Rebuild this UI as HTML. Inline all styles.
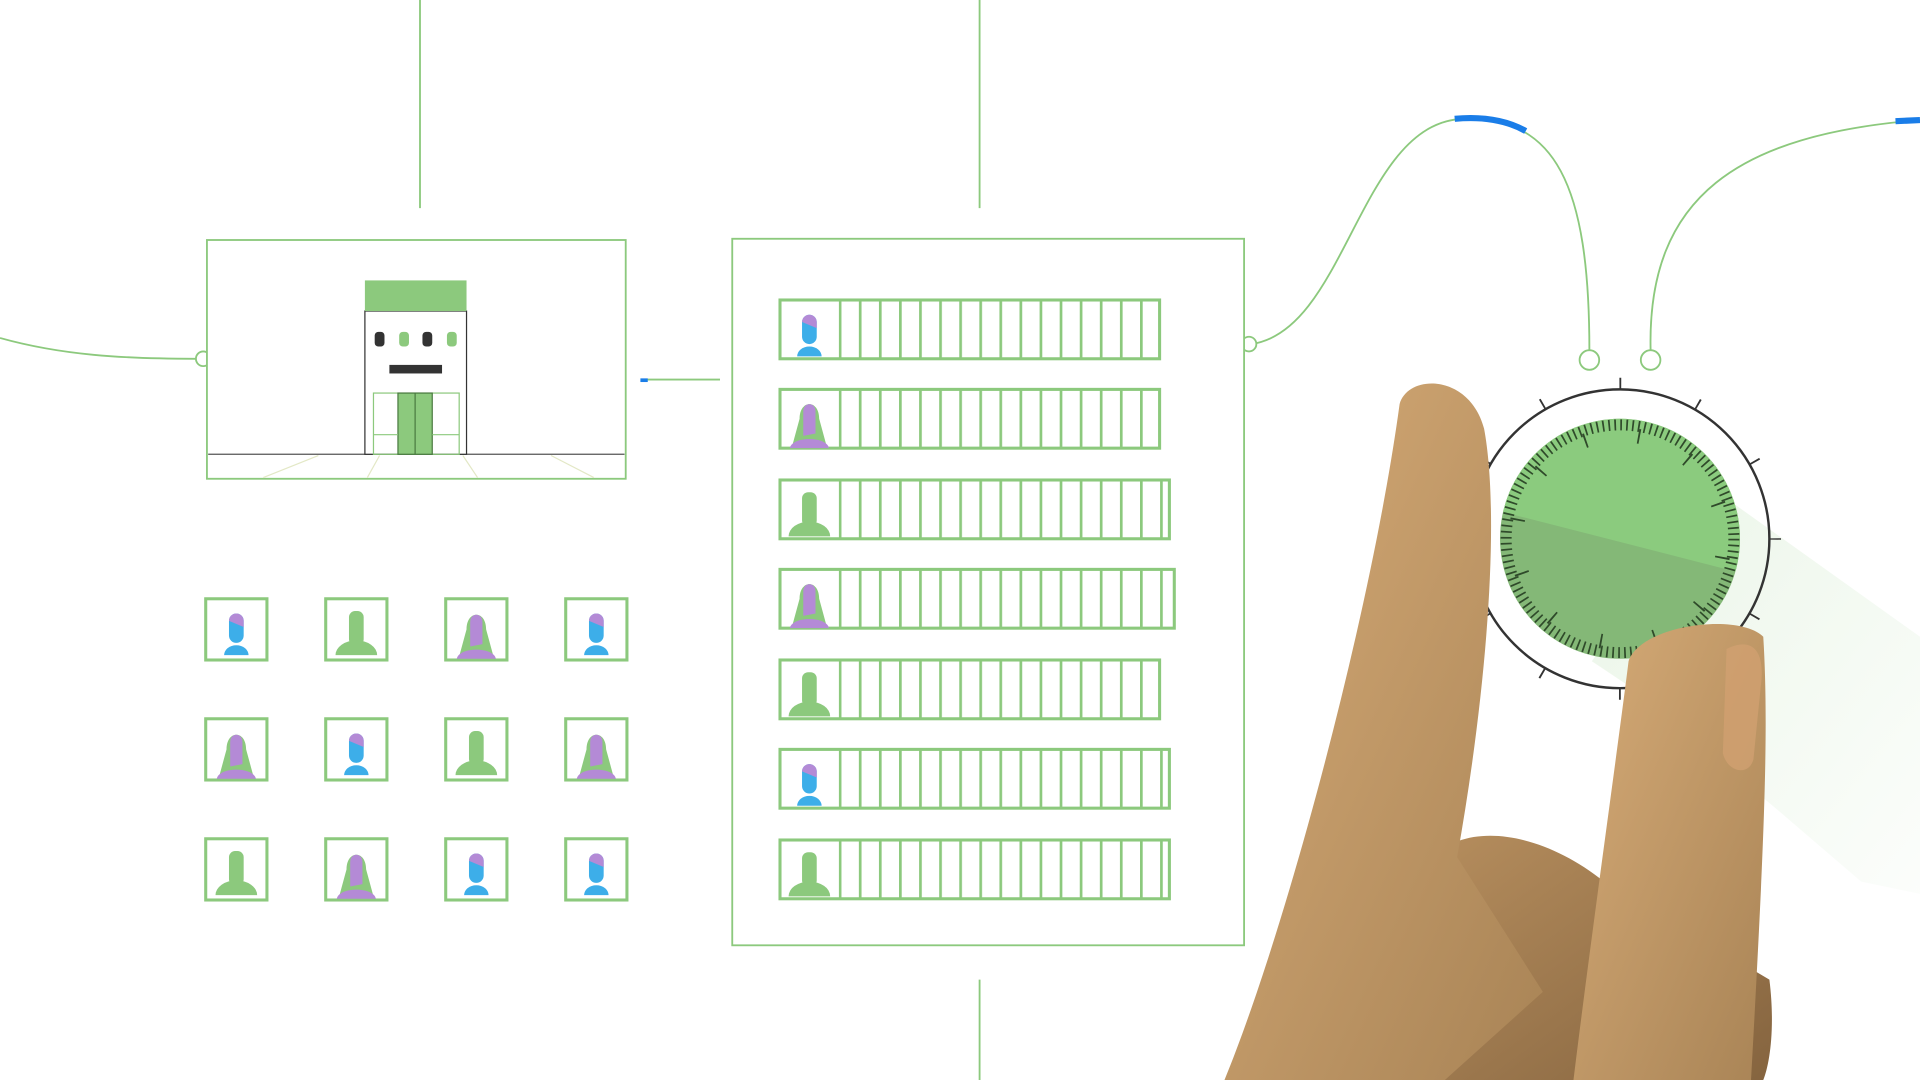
<!DOCTYPE html>
<html><head><meta charset="utf-8"><style>html,body{margin:0;padding:0;background:#fff}svg{display:block}</style></head><body>
<svg width="1920" height="1080" viewBox="0 0 1568 882" preserveAspectRatio="none" xmlns="http://www.w3.org/2000/svg">
<defs>
<pattern id="cols" x="685" y="0" width="16.4" height="882" patternUnits="userSpaceOnUse"><rect x="0" y="0" width="2.2" height="882" fill="#8cc97d"/></pattern>
<clipPath id="dialc"><circle cx="1323" cy="440" r="98"/></clipPath>
<linearGradient id="dust" x1="0" y1="0" x2="1" y2="1"><stop offset="0" stop-color="#8cc97d" stop-opacity="0.6"/><stop offset="1" stop-color="#8cc97d" stop-opacity="0.1"/></linearGradient>
<linearGradient id="skin" x1="0" y1="0" x2="1" y2="1"><stop offset="0" stop-color="#d6ab77"/><stop offset="1" stop-color="#a98456"/></linearGradient>
<linearGradient id="skin2" x1="0" y1="0" x2="1" y2="1"><stop offset="0" stop-color="#b58d5d"/><stop offset="1" stop-color="#85643f"/></linearGradient>
<g id="pb"><rect x="-6" y="-24" width="12" height="24" rx="6" fill="#3daee9"/><path d="M-6,-18 A6,6 0 0 1 6,-18 L6,-13 Z" fill="#b48ad6"/><path d="M-10,10 A10,8 0 0 1 10,10 Z" fill="#3daee9"/></g>
<g id="pg"><rect x="-6" y="-24" width="12" height="28" rx="5" fill="#8cc97d"/><path d="M-17,12 A17,12 0 0 1 17,12 Z" fill="#8cc97d"/></g>
<g id="pp"><path d="M-8,-12 C-8,-28 8,-28 8,-12 L14,10 L-14,10 Z" fill="#8cc97d"/><path d="M-5,-18 C-5,-26 5,-26 5,-18 L5,0 L-5,2 Z" fill="#b48ad6"/><path d="M-16,12 C-14,2 14,2 16,12 Z" fill="#b48ad6"/></g>
</defs>
<g stroke="#8cc97d" stroke-width="1.5" fill="none">
<line x1="343" y1="0" x2="343" y2="170"/>
<line x1="800" y1="0" x2="800" y2="170"/>
<line x1="800" y1="800" x2="800" y2="882"/>
<path d="M0,276 C50,290 100,293 160,293"/>
<circle cx="166" cy="293" r="6" fill="#fff"/>
<line x1="528" y1="310" x2="588" y2="310"/>
<path d="M1022,281 C1100,270 1110,100 1195,97 C1270,95 1298,150 1298,286"/>
<circle cx="1298" cy="294" r="8" fill="#fff"/>
<path d="M1348,286 C1345,160 1420,110 1568,98"/>
<circle cx="1348" cy="294" r="8" fill="#fff"/>
<circle cx="1020" cy="281" r="6" fill="#fff"/>
<rect x="169" y="196" width="342" height="195" fill="#fff"/>
<rect x="598" y="195" width="418" height="577" fill="#fff"/>
</g>
<path d="M1188,97 C1210,95 1230,98 1246,107" stroke="#1a7de8" stroke-width="5" fill="none"/>
<path d="M1548,99 L1568,98" stroke="#1a7de8" stroke-width="5"/>
<rect x="523" y="309" width="6" height="3" fill="#1a7de8"/>
<line x1="170" y1="371" x2="510" y2="371" stroke="#555" stroke-width="1"/>
<path d="M215,390 L260,372 M310,372 L300,390 M378,372 L390,390 M450,372 L485,390" stroke="#e3e8c6" stroke-width="1"/>
<rect x="298" y="254" width="83" height="117" fill="#fff" stroke="#333" stroke-width="1"/>
<rect x="298" y="229" width="83" height="25" fill="#8cc97d"/>
<rect x="306" y="271" width="8" height="12" rx="3" fill="#333"/><rect x="326" y="271" width="8" height="12" rx="3" fill="#8cc97d"/>
<rect x="345" y="271" width="8" height="12" rx="3" fill="#333"/><rect x="365" y="271" width="8" height="12" rx="3" fill="#8cc97d"/>
<rect x="318" y="298" width="43" height="7" fill="#333"/>
<rect x="305" y="321" width="70" height="50" fill="none" stroke="#8cc97d" stroke-width="1"/>
<rect x="325" y="321" width="28" height="50" fill="#8cc97d" stroke="#4a7a40" stroke-width="1"/>
<line x1="339" y1="321" x2="339" y2="371" stroke="#4a7a40"/>
<path d="M305,355 L325,355 M353,355 L375,355" stroke="#8cc97d"/>
<g stroke="#8cc97d" stroke-width="2.5" fill="none">
<rect x="637" y="245" width="310" height="48"/><rect x="637" y="318" width="310" height="48"/>
<rect x="637" y="392" width="318" height="48"/><rect x="637" y="465" width="322" height="48"/>
<rect x="637" y="539" width="310" height="48"/><rect x="637" y="612" width="318" height="48"/>
<rect x="637" y="686" width="318" height="48"/>
</g>
<g fill="url(#cols)">
<rect x="685" y="246" width="262" height="46"/><rect x="685" y="319" width="262" height="46"/>
<rect x="685" y="393" width="270" height="46"/><rect x="685" y="466" width="274" height="46"/>
<rect x="685" y="540" width="262" height="46"/><rect x="685" y="613" width="270" height="46"/>
<rect x="685" y="687" width="270" height="46"/>
</g>
<use href="#pb" x="661" y="281"/><use href="#pp" x="661" y="354"/><use href="#pg" x="661" y="426"/>
<use href="#pp" x="661" y="501"/><use href="#pg" x="661" y="573"/><use href="#pb" x="661" y="648"/><use href="#pg" x="661" y="720"/>
<g stroke="#8cc97d" stroke-width="2.5" fill="#fff">
<rect x="168" y="489" width="50" height="50"/><rect x="266" y="489" width="50" height="50"/><rect x="364" y="489" width="50" height="50"/><rect x="462" y="489" width="50" height="50"/>
<rect x="168" y="587" width="50" height="50"/><rect x="266" y="587" width="50" height="50"/><rect x="364" y="587" width="50" height="50"/><rect x="462" y="587" width="50" height="50"/>
<rect x="168" y="685" width="50" height="50"/><rect x="266" y="685" width="50" height="50"/><rect x="364" y="685" width="50" height="50"/><rect x="462" y="685" width="50" height="50"/>
</g>
<use href="#pb" x="193" y="525"/><use href="#pg" x="291" y="523"/><use href="#pp" x="389" y="526"/><use href="#pb" x="487" y="525"/>
<use href="#pp" x="193" y="624"/><use href="#pb" x="291" y="623"/><use href="#pg" x="389" y="621"/><use href="#pp" x="487" y="624"/>
<use href="#pg" x="193" y="719"/><use href="#pp" x="291" y="722"/><use href="#pb" x="389" y="721"/><use href="#pb" x="487" y="721"/>
<path d="M1400,400 L1568,520 L1568,730 L1520,720 L1450,660 L1330,560 L1300,540 Z" fill="url(#dust)" opacity="0.3"/>
<circle cx="1323" cy="440" r="122" fill="none" stroke="#333" stroke-width="2"/>
<circle cx="1323" cy="440" r="127" fill="none" stroke="#333" stroke-width="9" stroke-dasharray="1.5 65" stroke-dashoffset="0.75"/>
<g clip-path="url(#dialc)">
<rect x="1220" y="338" width="210" height="210" fill="#84b877"/>
<path d="M1215,415 L1430,470 L1430,330 L1215,330 Z" fill="#8bcb7e"/>
</g>
<circle cx="1323" cy="440" r="93" fill="none" stroke="#2f4a2a" stroke-width="9" stroke-dasharray="1.4 3.47"/>
<circle cx="1323" cy="440" r="85" fill="none" stroke="#2f4a2a" stroke-width="12" stroke-dasharray="1.5 43" transform="rotate(-80 1323 440)"/>
<path d="M1170,700 C1200,670 1260,680 1310,720 L1445,800 C1450,840 1445,870 1440,882 L1180,882 Z" fill="url(#skin2)"/>
<path d="M1143,330 C1150,305 1200,305 1212,350 C1225,420 1215,560 1190,700 L1260,810 L1180,882 L1000,882 C1050,760 1120,500 1143,330 Z" fill="url(#skin)"/>
<path d="M1330,540 C1340,510 1420,500 1440,520 C1445,600 1440,700 1430,882 L1285,882 C1300,760 1320,620 1330,540 Z" fill="url(#skin)"/>
<path d="M1410,530 C1430,520 1442,530 1438,560 L1432,620 C1428,635 1410,630 1407,615 Z" fill="#d1a070" opacity="0.8"/>
</svg>
</body></html>
